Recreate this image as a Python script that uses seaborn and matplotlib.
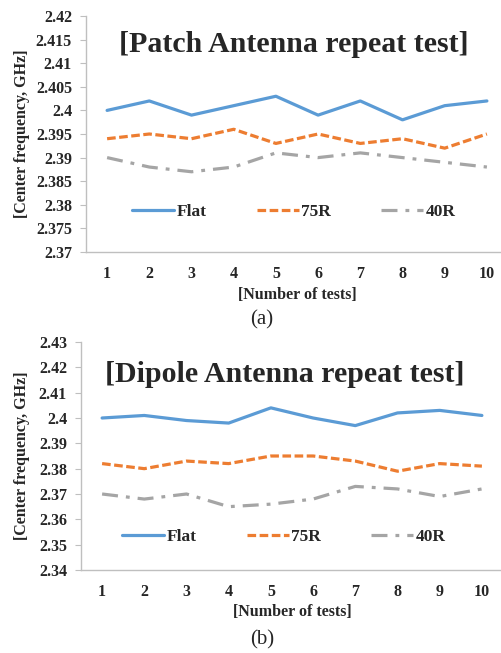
import matplotlib
matplotlib.use("Agg")
import matplotlib.pyplot as plt
from matplotlib.lines import Line2D
import seaborn as sns
import pandas as pd

tests = [1, 2, 3, 4, 5, 6, 7, 8, 9, 10]
series_names = ["Flat", "75R", "40R"]

patch_flat = [2.400, 2.402, 2.399, 2.401, 2.403, 2.399, 2.402, 2.398, 2.401, 2.402]
patch_75r = [2.394, 2.395, 2.394, 2.396, 2.393, 2.395, 2.393, 2.394, 2.392, 2.395]
patch_40r = [2.390, 2.388, 2.387, 2.388, 2.391, 2.390, 2.391, 2.390, 2.389, 2.388]

dipole_flat = [2.400, 2.401, 2.399, 2.398, 2.404, 2.400, 2.397, 2.402, 2.403, 2.401]
dipole_75r = [2.382, 2.380, 2.383, 2.382, 2.385, 2.385, 2.383, 2.379, 2.382, 2.381]
dipole_40r = [2.370, 2.368, 2.370, 2.365, 2.366, 2.368, 2.373, 2.372, 2.369, 2.372]

patch_yticks = [2.37, 2.375, 2.38, 2.385, 2.39, 2.395, 2.4, 2.405, 2.41, 2.415, 2.42]
patch_yticklabels = ["2.37", "2.375", "2.38", "2.385", "2.39", "2.395", "2.4", "2.405", "2.41", "2.415", "2.42"]
dipole_yticks = [2.34, 2.35, 2.36, 2.37, 2.38, 2.39, 2.4, 2.41, 2.42, 2.43]
dipole_yticklabels = ["2.34", "2.35", "2.36", "2.37", "2.38", "2.39", "2.4", "2.41", "2.42", "2.43"]

colors = {"Flat": "#5B9BD5", "75R": "#ED7D31", "40R": "#A5A5A5"}
dashes = {"Flat": "", "75R": (2.7, 1.1), "40R": (5, 2.5, 1.2, 2.5)}

sns.set_theme(style="white")
plt.rcParams["font.family"] = ["Liberation Serif", "DejaVu Serif"]

W, H = 501, 653
fig = plt.figure(figsize=(W / 100, H / 100), dpi=100)


def make_df(flat, r75, r40):
    rows = []
    for name, vals in zip(series_names, [flat, r75, r40]):
        for t, v in zip(tests, vals):
            rows.append({"test": t, "freq": v, "series": name})
    return pd.DataFrame(rows)


def panel(box, df, yticks, yticklabels, title, title_xy, leg_xy, label, label_xy,
          xt_y, xl_xy, ylab_y):
    l, t, r, b = box
    ax = fig.add_axes([l / W, 1 - b / H, (r - l) / W, (b - t) / H])
    sns.lineplot(data=df, x="test", y="freq", hue="series", style="series",
                 palette=colors, dashes=dashes, linewidth=2.3, ax=ax,
                 legend=False, markers=False, hue_order=series_names,
                 style_order=series_names)
    ax.set_xlim(0.5, 10.5)
    ax.set_ylim(yticks[0], yticks[-1])
    ax.set_yticks(yticks)
    ax.set_yticklabels(yticklabels, fontsize=11.5, fontweight="bold")
    ax.set_xticks(tests)
    ax.set_xticklabels([str(x) for x in tests], fontsize=11.5, fontweight="bold")
    ax.tick_params(axis="y", length=4, width=0.8, color="#BFBFBF", pad=6, left=True)
    ax.tick_params(axis="x", length=0, pad=(xt_y - b) - 10)
    for s in ["top", "right"]:
        ax.spines[s].set_visible(False)
    for s in ["left", "bottom"]:
        ax.spines[s].set_color("#BFBFBF")
        ax.spines[s].set_linewidth(1.0)
    ax.set_xlabel("")
    ax.set_ylabel("")
    fig.text(title_xy[0] / W, 1 - title_xy[1] / H, title,
             ha="center", va="center", fontsize=21.5, fontweight="bold")
    handles = [Line2D([0], [0], color=colors[n], lw=2.3,
                      linestyle="-" if n == "Flat" else (0, dashes[n]))
               for n in series_names]
    fig.legend(handles, series_names, loc="center",
               bbox_to_anchor=(leg_xy[0] / W, 1 - leg_xy[1] / H), ncol=3,
               frameon=False, prop={"size": 12.5, "weight": "bold"},
               handlelength=2.4, handletextpad=0.15, columnspacing=2.9)
    fig.text(xl_xy[0] / W, 1 - xl_xy[1] / H, "[Number of tests]", ha="center",
             va="center", fontsize=11.5, fontweight="bold")
    fig.text(22 / W, 1 - ylab_y / H, "[Center frequency, GHz]", rotation=90,
             ha="center", va="center", fontsize=11.5, fontweight="bold")
    fig.text(label_xy[0] / W, 1 - label_xy[1] / H, label, ha="center", va="center",
             fontsize=15)
    return ax


panel((86, 16, 508, 252), make_df(patch_flat, patch_75r, patch_40r),
      patch_yticks, patch_yticklabels, "[Patch Antenna repeat test]", (294, 45),
      (294, 212), "(a)", (262, 320), 272, (297, 295), 134)
panel((81, 342, 503, 570), make_df(dipole_flat, dipole_75r, dipole_40r),
      dipole_yticks, dipole_yticklabels, "[Dipole Antenna repeat test]", (285, 375),
      (284, 537), "(b)", (262, 640), 590, (292, 612), 456)

fig.savefig("out.png", dpi=100)
